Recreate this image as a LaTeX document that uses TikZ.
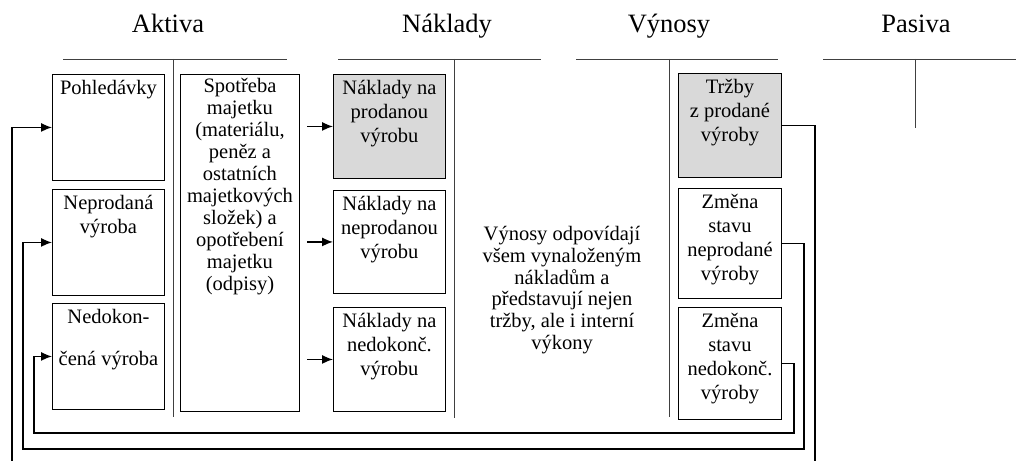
\documentclass[tikz,border=0pt]{standalone}
\usepackage{fontspec}
\setmainfont{Liberation Serif}
\usetikzlibrary{arrows.meta}

\newcommand{\acctbox}[3]{\parbox[t][#2][t]{#1}{\centering\strut #3}}

\tikzset{
  acct/.style={draw, line width=0.9pt, inner sep=3pt, anchor=north west,
    font=\fontsize{20.5}{24}\selectfont},
  sold/.style={fill=black!15},
  title/.style={font=\fontsize{26.5}{30}\selectfont, anchor=base},
  tline/.style={black!75, line width=0.9pt},
  flow/.style={line width=1.3pt, -{Latex[length=11pt,width=9pt]}}
}

\begin{document}
\begin{tikzpicture}[x=1pt, y=-1pt]
  \clip (0,0) rectangle (1016,460);

  % account headings
  \node[title] (aktiva) at (168,33) {Aktiva};
  \node[title] (naklady) at (447,33) {Náklady};
  \node[title] (vynosy) at (669,33) {Výnosy};
  \node[title] (pasiva) at (916,33) {Pasiva};

  % T-accounts
  \draw[tline] (63,59) -- (287,59);
  \draw[tline] (173,59) -- (173,417);
  \draw[tline] (338,59) -- (541,59);
  \draw[tline] (454,59) -- (454,418);
  \draw[tline] (576,59) -- (778,59);
  \draw[tline] (669,59) -- (669,417);
  \draw[tline] (823,59) -- (1016,59);
  \draw[tline] (915,59) -- (915,128);

  % Aktiva
  \node[acct] (pohl) at (52,74) {\acctbox{106pt}{100pt}{Pohledávky}};
  \node[acct] (neprod) at (52,189) {\acctbox{106pt}{100pt}{Neprodaná\\výroba}};
  \node[acct] (nedok) at (52,303) {\acctbox{106pt}{100pt}{Nedokon-\\[18pt]čená výroba}};
  \node[acct, font=\fontsize{20.5}{22}\selectfont] (spotr) at (180,74)
    {\acctbox{113pt}{331pt}{Spotřeba\\majetku\\(materiálu,\\peněz a\\ostatních\\majetkových\\složek) a\\opotřebení\\majetku\\(odpisy)}};

  % Naklady
  \node[acct, sold] (nprod) at (333,74) {\acctbox{106pt}{98pt}{Náklady na\\prodanou\\výrobu}};
  \node[acct] (nneprod) at (333,190) {\acctbox{106pt}{97pt}{Náklady na\\neprodanou\\výrobu}};
  \node[acct] (nnedok) at (333,307) {\acctbox{106pt}{98pt}{Náklady na\\nedokonč.\\výrobu}};

  % Vynosy
  \node[font=\fontsize{20.5}{21.7}\selectfont, align=center] (vynos) at (562,290)
    {Výnosy odpovídají\\všem vynaloženým\\nákladům a\\představují nejen\\tržby, ale i interní\\výkony};
  \node[acct, sold] (trzby) at (678,73) {\acctbox{97pt}{98pt}{Tržby\\z prodané\\výroby}};
  \node[acct] (zneprod) at (678,188) {\acctbox{97pt}{104pt}{Změna\\stavu\\neprodané\\výroby}};
  \node[acct] (znedok) at (678,307) {\acctbox{97pt}{106pt}{Změna\\stavu\\nedokonč.\\výroby}};

  % consumption into costs
  \foreach \n in {nprod, nneprod, nnedok} {
    \coordinate (\n-in) at ([xshift=-26pt]\n.west);
    \draw[flow] (\n-in) -- (\n.west);
  }

  % revenues back to assets
  \coordinate (r1) at (815,470);
  \coordinate (r2) at (804,449);
  \coordinate (r3) at (794,433);
  \coordinate (l1) at ([xshift=-40pt]pohl.west);
  \coordinate (l2) at ([xshift=-29pt]neprod.west);
  \coordinate (l3) at ([xshift=-18pt]nedok.west);
  \draw[flow] (trzby.east) -| (r1) -| (l1) -- (pohl.west);
  \draw[flow] (zneprod.east) -| (r2) -| (l2) -- (neprod.west);
  \draw[flow] (znedok.east) -| (r3) -| (l3) -- (nedok.west);
\end{tikzpicture}
\end{document}
